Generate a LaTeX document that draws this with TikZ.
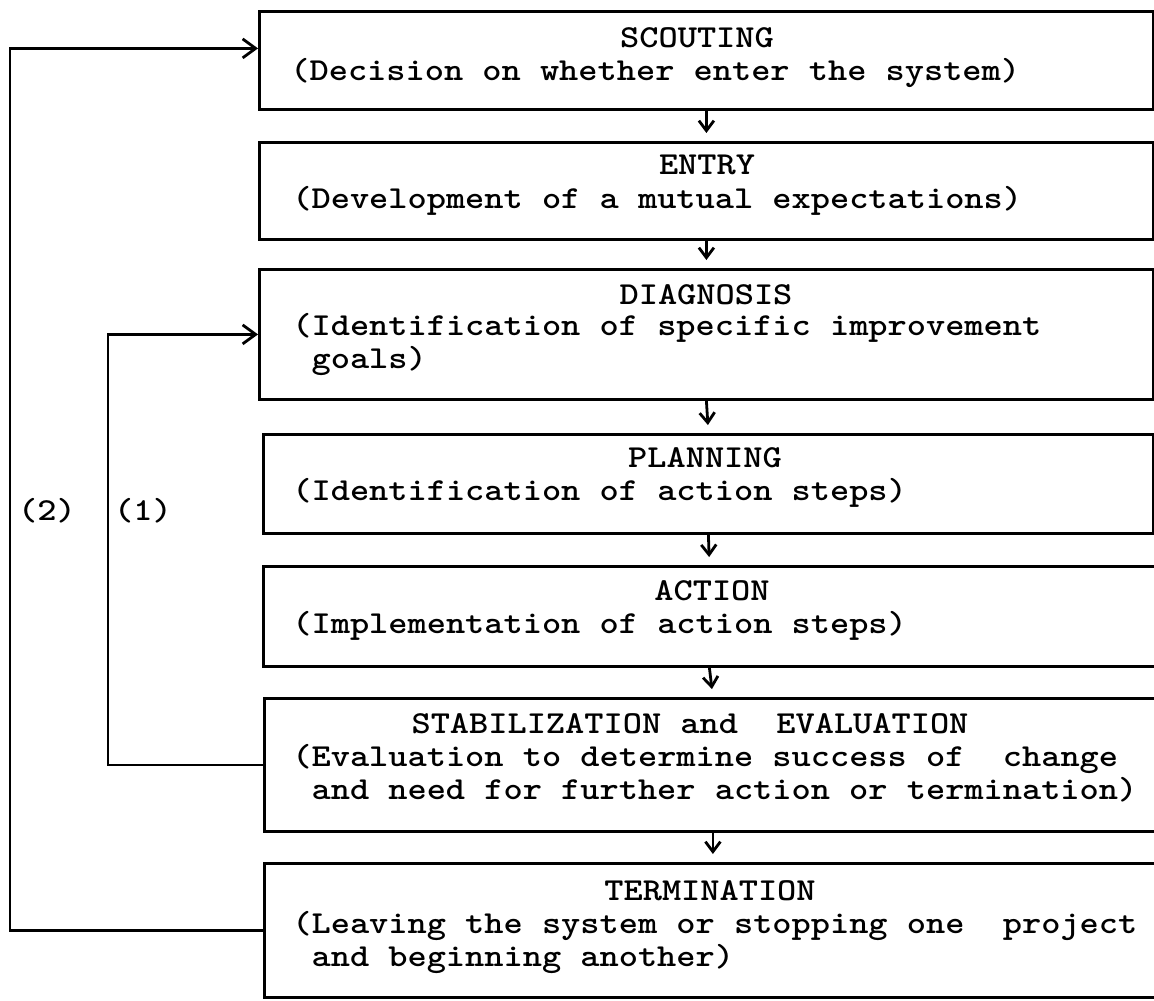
\documentclass[tikz,border=0pt]{standalone}
\usepackage{fontspec}
\usepackage{graphicx}
\usetikzlibrary{arrows.meta}
\newcommand\typewr{\ttfamily\bfseries\fontsize{16}{16.5}\selectfont}
\newcommand\wide[1]{\scalebox{1.143}[1]{#1}}

\begin{document}
\begin{tikzpicture}[x=0.5pt, y=-0.5pt,
    stage/.style={draw, line width=1.4pt, anchor=north west, inner sep=0pt},
    title/.style={anchor=base, inner sep=0pt, font=\typewr},
    desc/.style={anchor=base west, align=left, inner sep=0pt, font=\typewr},
    flow/.style={-{Straight Barb[length=5pt, width=7.5pt]}, line width=1.4pt, shorten >=4pt},
    back/.style={-{Straight Barb[length=6.5pt, width=9.5pt]}, line width=1.4pt}
  ]
    \useasboundingbox (0,0) rectangle (1154,1000);
    % the seven stages
    \node [stage, minimum width=447pt, minimum height=49pt] (scout) at (258,10) {};
    \node [stage, minimum width=447pt, minimum height=48.5pt] (entry) at (258,141) {};
    \node [stage, minimum width=447pt, minimum height=65pt] (diag) at (258,268) {};
    \node [stage, minimum width=445pt, minimum height=49.5pt] (plan) at (262,433) {};
    \node [stage, minimum width=446pt, minimum height=50pt] (act) at (262,565) {};
    \node [stage, minimum width=448.5pt, minimum height=66.5pt] (stab) at (263,697) {};
    \node [stage, minimum width=448.5pt, minimum height=67pt] (term) at (263,862) {};

    % texts (a multi-line desc sits on its last line)
    \node [title] (scoutT) at (697,48) {\wide{SCOUTING}};
    \node [desc] (scoutD) at (290,81) {\wide{(Decision on whether enter the system)}};
    \node [title] (entryT) at (707,175) {\wide{ENTRY}};
    \node [desc] (entryD) at (292,208) {\wide{(Development of a mutual expectations)}};
    \node [title] (diagT) at (706,304) {\wide{DIAGNOSIS}};
    \node [desc] (diagD) at (292,368) {\wide{(Identification of specific improvement}\\\wide{\ goals)}};
    \node [title] (planT) at (705,467) {\wide{PLANNING}};
    \node [desc] (planD) at (292,500) {\wide{(Identification of action steps)}};
    \node [title] (actT) at (712,600) {\wide{ACTION}};
    \node [desc] (actD) at (292,633) {\wide{(Implementation of action steps)}};
    \node [title] (stabT) at (690,733) {\wide{STABILIZATION and\ \ EVALUATION}};
    \node [desc] (stabD) at (292,799) {\wide{(Evaluation to determine success of\ \ change}\\\wide{\ and need for further action or termination)}};
    \node [title] (termT) at (710,900) {\wide{TERMINATION}};
    \node [desc] (termD) at (292,966) {\wide{(Leaving the system or stopping one\ \ project}\\\wide{\ and beginning another)}};

    % forward steps
    \draw [flow] (scout.south) -- (entry.north);
    \draw [flow] (entry.south) -- (diag.north);
    \draw [flow] (diag.south) -- (plan.north);
    \draw [flow] (plan.south) -- (act.north);
    \draw [flow] (act.south) -- (stab.north);
    \draw [flow] (stab.south) -- (term.north);

    % feedback loops
    \draw [back] (stab.west) -- ++(-155,0) |- (diag.west);
    \draw [back] (term.west) -- ++(-253,0) |- ([yshift=6pt]scout.west);
    \node [title] (two) at (47,520) {\wide{(2)}};
    \node [title] (one) at (143,520) {\wide{(1)}};
  \end{tikzpicture}
\end{document}
